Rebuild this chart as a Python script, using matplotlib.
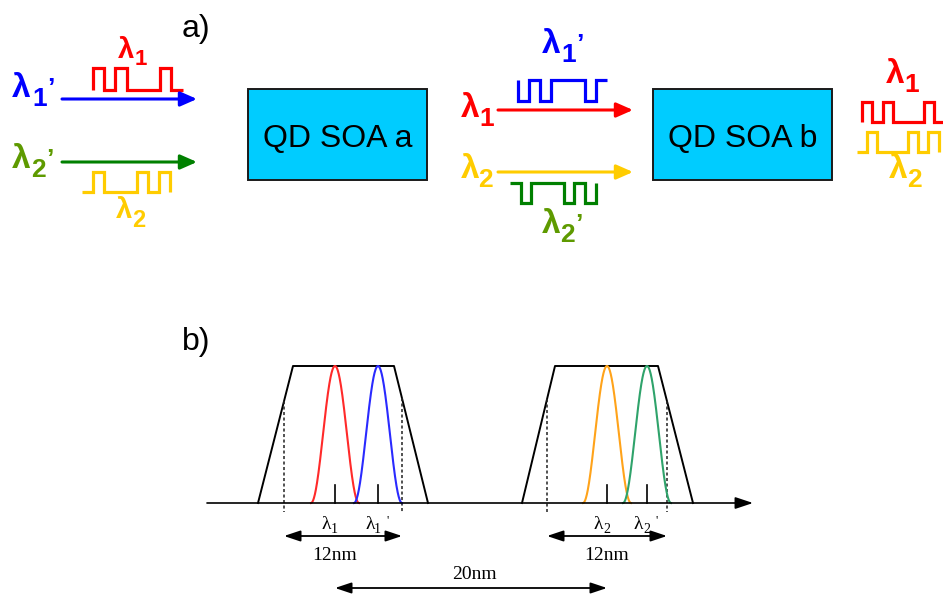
import numpy as np
import matplotlib
matplotlib.use("Agg")
import matplotlib.pyplot as plt
from matplotlib.patches import Rectangle

# ---------------- data ----------------
# bit patterns of the data signals (part a)
lambda1_bits = [1, 0, 1, 0, 0, 0, 1, 0]
lambda2_bits = [0, 1, 0, 0, 0, 1, 0, 1]
lambda1p_bits = [0, 1, 0, 1, 1, 1, 0, 1]   # inverted copy of lambda1
lambda2p_bits = [1, 0, 1, 1, 1, 0, 1, 0]   # inverted copy of lambda2
soa_labels = ["QD SOA a", "QD SOA b"]

# part b: channel peaks and labels
peak_centers = [335, 378, 607, 647]
peak_labels = ["1", "1", "2", "2"]
peak_primes = [False, True, False, True]
spacing_labels = ["12nm", "12nm", "20nm"]

# ---------------- colours ----------------
RED = "#FF0000"
BLUE = "#0000FF"
GREEN = "#008000"
OLIVE = "#5E9A00"
YELLOW = "#FFCC00"
CYAN = "#00CCFF"
PEAK_COLORS = ["#FF2A2A", "#2A2AFF", "#FFA31A", "#2FA36B"]

fig = plt.figure(figsize=(9.43, 5.94), dpi=100)
ax = fig.add_axes([0, 0, 1, 1])
ax.set_xlim(0, 943)
ax.set_ylim(594, 0)
ax.axis("off")

SANS = ["Liberation Sans", "DejaVu Sans"]
SERIF = ["Liberation Serif", "DejaVu Serif"]


def arrow(x0, x1, y, color, lw=2.2, hl=0.5, hw=0.22, ms=20):
    ax.annotate("", xy=(x1, y), xytext=(x0, y),
                arrowprops=dict(arrowstyle=f"-|>,head_length={hl},head_width={hw}",
                                color=color, lw=lw, shrinkA=0, shrinkB=0,
                                mutation_scale=ms))


def waveform(bits, x0, w, ytop, ybot, color, start_level, end_fall=False, end_rise=False):
    ys = {1: ytop, 0: ybot}
    xs = [x0]
    yy = [ys[start_level]]
    for i, b in enumerate(bits):
        xs += [x0 + i * w, x0 + (i + 1) * w]
        yy += [ys[b], ys[b]]
    if end_fall:
        xs.append(xs[-1]); yy.append(ybot)
    if end_rise:
        xs.append(xs[-1]); yy.append(ytop)
    ax.plot(xs, yy, color=color, lw=2.3, solid_joinstyle="miter", solid_capstyle="butt")


def lam(x, base, digit, color, prime=False, fs=24, dfs=19, ddx=19, ddy=9, pdx=33):
    ax.text(x, base, "λ", color=color, fontsize=fs, fontweight="bold",
            family=SANS, ha="left", va="baseline")
    ax.text(x + ddx, base + ddy, digit, color=color, fontsize=dfs, fontweight="bold",
            family=SANS, ha="left", va="baseline")
    if prime:
        ax.text(x + pdx, base - 1, "’", color=color, fontsize=dfs, fontweight="bold",
                family=SANS, ha="left", va="baseline")


# ---------------- part a ----------------
ax.text(182, 37, "a)", fontsize=23, family=SANS, ha="left", va="baseline")

# SOA boxes
for (bx, lab) in zip([248, 653], soa_labels):
    ax.add_patch(Rectangle((bx, 89), 179, 91, facecolor=CYAN, edgecolor="#1a1a1a", lw=1.4))
    ax.text(bx + 89.5, 147, lab, fontsize=23, family=SANS, ha="center", va="baseline")

# input arrows
arrow(62, 197, 99, BLUE)
arrow(62, 197, 162, GREEN)
waveform(lambda1_bits, 93, 11.2, 68, 90, RED, start_level=0)
waveform(lambda2_bits, 82, 11.0, 172, 192, YELLOW, start_level=0, end_fall=True)
lam(12, 97, "1", BLUE, prime=True, ddx=20, pdx=35)
lam(12, 168, "2", OLIVE, prime=True, ddx=19, pdx=34)
lam(118, 58, "1", RED, fs=21, dfs=16, ddx=17, ddy=7)
lam(116, 218, "2", YELLOW, fs=21, dfs=17, ddx=16, ddy=9)

# middle arrows
arrow(498, 633, 110, RED)
arrow(498, 633, 172, YELLOW)
waveform(lambda1p_bits, 518, 11.1, 80, 101, BLUE, start_level=1)
waveform(lambda2p_bits, 510, 10.7, 183, 203, GREEN, start_level=1, end_rise=True)
lam(542, 53, "1", BLUE, prime=True, ddx=19, pdx=34)
lam(461, 117, "1", RED, ddx=18)
lam(461, 178, "2", YELLOW, ddx=17)
lam(542, 233, "2", OLIVE, prime=True, ddx=18, pdx=33)

# output signals
waveform(lambda1_bits, 862, 10.3, 102, 122, RED, start_level=0)
waveform(lambda2_bits, 857, 10.2, 132, 152, YELLOW, start_level=0, end_fall=True)
lam(886, 83, "1", RED, ddx=18)
lam(889, 178, "2", YELLOW, ddx=18)

# ---------------- part b ----------------
ax.text(182, 350, "b)", fontsize=23, family=SANS, ha="left", va="baseline")

BASE = 503
TOP = 366
# baseline (wavelength axis)
ax.annotate("", xy=(753, BASE), xytext=(207, BASE),
            arrowprops=dict(arrowstyle="-|>,head_length=0.9,head_width=0.3",
                            color="black", lw=1.2, shrinkA=0, shrinkB=0, mutation_scale=12))

# gain bands (trapezoids)
trapezoids = [(258, 293, 394, 428), (522, 555, 658, 693)]
dashes = [(284, 402), (547, 667)]
for (a, b, c, d), (dl, dr) in zip(trapezoids, dashes):
    ax.plot([a, b, c, d], [BASE, TOP, TOP, BASE], color="black", lw=1.4)
    yl = BASE - (dl - a) / (b - a) * (BASE - TOP)
    yr = BASE - (d - dr) / (d - c) * (BASE - TOP)
    ax.plot([dl, dl], [yl, 512], color="#222222", lw=1.1, ls=(0, (2, 1.6)))
    ax.plot([dr, dr], [yr, 512], color="#222222", lw=1.1, ls=(0, (2, 1.6)))

# channel peaks
half = 24
for cx, col, dg, pr in zip(peak_centers, PEAK_COLORS, peak_labels, peak_primes):
    xs = np.linspace(cx - half, cx + half, 200)
    ys = BASE - (BASE - TOP) * np.cos(np.pi * (xs - cx) / (2 * half)) ** 2
    ax.plot(xs, ys, color=col, lw=1.5)
    ax.plot([cx, cx], [485, BASE], color="black", lw=1.2)
    ax.text(cx - 13, 529, "λ", fontsize=14, family=SERIF, ha="left", va="baseline")
    ax.text(cx - 4, 533, dg, fontsize=10, family=SERIF, ha="left", va="baseline")
    if pr:
        ax.text(cx + 8, 524, "'", fontsize=9, family=SERIF, ha="left", va="baseline")


def darrow(x0, x1, y):
    ax.annotate("", xy=(x1, y), xytext=(x0, y),
                arrowprops=dict(arrowstyle="<|-|>,head_length=0.9,head_width=0.3",
                                color="black", lw=1.3, shrinkA=0, shrinkB=0, mutation_scale=11))


darrow(284, 402, 536)
darrow(547, 667, 536)
darrow(335, 607, 588)
ax.text(335, 560, spacing_labels[0], fontsize=14, family=SERIF, ha="center", va="baseline")
ax.text(607, 560, spacing_labels[1], fontsize=14, family=SERIF, ha="center", va="baseline")
ax.text(474, 579, spacing_labels[2], fontsize=14, family=SERIF, ha="center", va="baseline")

fig.savefig("out.png", dpi=100)
